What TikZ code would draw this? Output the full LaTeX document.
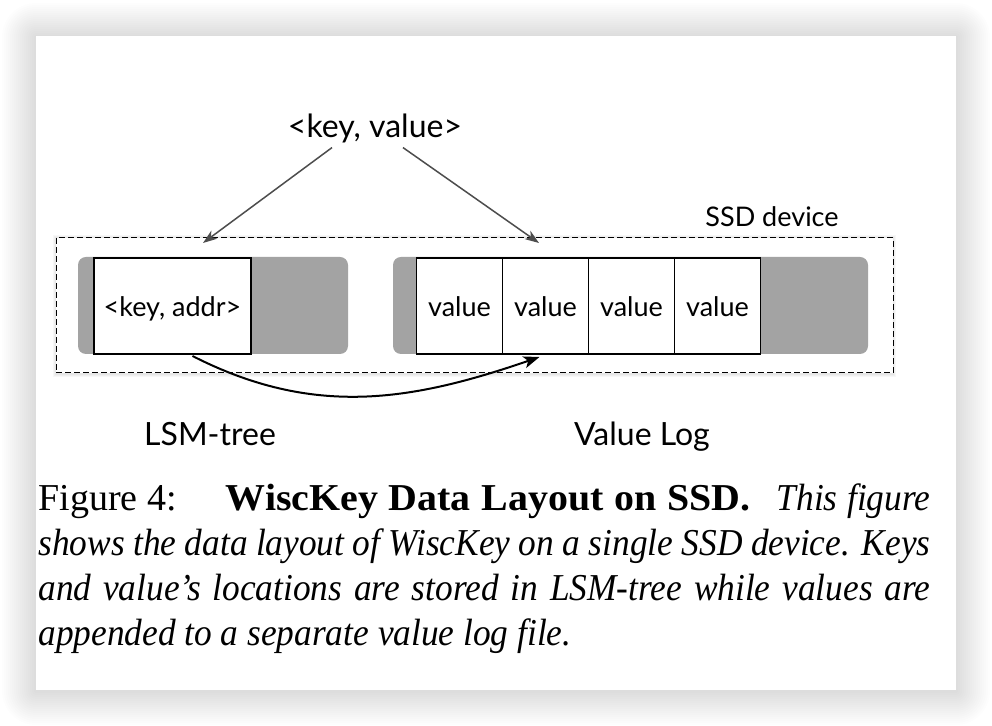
\documentclass[tikz,border=0pt]{standalone}
\usepackage{fontspec}
\usetikzlibrary{arrows.meta, positioning, calc}
\newfontfamily\diafont{Lato}
\newfontfamily\capfont{Liberation Serif}[ItalicFeatures={FakeStretch=0.93}, BoldFeatures={FakeStretch=1.05}]
\definecolor{diskgray}{RGB}{163, 163, 163}
\definecolor{feedgray}{RGB}{77, 77, 77}

\begin{document}
\begin{tikzpicture}[x=0.5pt, y=-0.5pt,
  slotbox/.style={draw, fill=white, line width=0.6pt, outer sep=0pt, inner sep=0pt,
    minimum height=48pt, text height=11pt, text depth=0pt,
    font=\diafont\fontsize{13.5}{16}\selectfont},
  feed/.style={feedgray, line width=0.75pt, -{Stealth[length=7pt, width=5pt, inset=2pt]}},
  tag/.style={anchor=base, font=\diafont\fontsize{16}{19}\selectfont},
  caption/.style={anchor=base west, inner sep=0pt, font=\capfont\fontsize{19}{22}\selectfont}]
  \useasboundingbox (0, 0) rectangle (992, 726);
  \fill[white] (0, 0) rectangle (992, 726);

  % page with its shadow
  \foreach \s in {1,...,17}
    \fill[black, opacity=0.009, rounded corners=\s pt]
      (36-2*\s, 37-2*\s) rectangle (956+2*\s, 691+2*\s);
  \fill[white] (36, 36) rectangle (956, 690);

  % SSD device
  \foreach \s in {1,...,3}
    \fill[black, opacity=0.03] (56-\s, 238-\s) rectangle (893+\s, 374+\s);
  \draw[dash pattern=on 3pt off 1.5pt, line width=0.5pt, fill=white] (56, 238) rectangle (893, 373);
  \node[font=\diafont\fontsize{13.5}{16}\selectfont] (ssd) at (772, 217) {SSD device};

  % LSM-tree and value log areas
  \fill[diskgray, rounded corners=4pt] (78, 257) rectangle (348, 354);
  \fill[diskgray, rounded corners=4pt] (393, 257) rectangle (868, 354);

  \node[slotbox, minimum width=78.5pt] (keyaddr) at (172.5, 306) {<key, addr>};
  \node[slotbox, minimum width=43pt] (v1) at (459.5, 306) {value};
  \node[slotbox, minimum width=43pt, right=0pt of v1] (v2) {value};
  \node[slotbox, minimum width=43pt, right=0pt of v2] (v3) {value};
  \node[slotbox, minimum width=43pt, right=0pt of v3] (v4) {value};

  % incoming pair
  \node[font=\diafont\fontsize{16}{19}\selectfont] (kv) at (375, 128) {<key, value>};
  \coordinate (lsmin) at (203, 243);
  \coordinate (login) at (539, 243);
  \draw[feed] ($(kv.south)+(-43, -2)$) -- (lsmin);
  \draw[feed] ($(kv.south)+(28, -2)$) -- (login);

  % pointer from key to value
  \draw[line width=1pt, -{Stealth[length=8pt, width=6pt, inset=2pt]}]
    ($(keyaddr.south)+(20, 2)$) to[out=-27, in=199] ($(v2.south)+(-6, 3)$);

  \node[tag] (lsm) at (210, 446) {LSM-tree};
  \node[tag] (vlog) at (642, 446) {Value Log};

  % caption
  \node[caption] (cap1) at (38, 511) {\makebox[446pt][s]{Figure 4:\hskip 1.1em plus 1em
    \textbf{WiscKey Data Layout on SSD.}\hskip 0.6em plus 0.5em \textit{This figure}}};
  \node[caption] (cap2) at (38, 556) {\makebox[446pt][s]{\itshape shows the data
    layout of WiscKey on a single SSD device. Keys}};
  \node[caption] (cap3) at (38, 601) {\makebox[446pt][s]{\itshape and value’s
    locations are stored in LSM-tree while values are}};
  \node[caption] (cap4) at (38, 646) {\itshape appended to a separate value log file.};
\end{tikzpicture}
\end{document}
